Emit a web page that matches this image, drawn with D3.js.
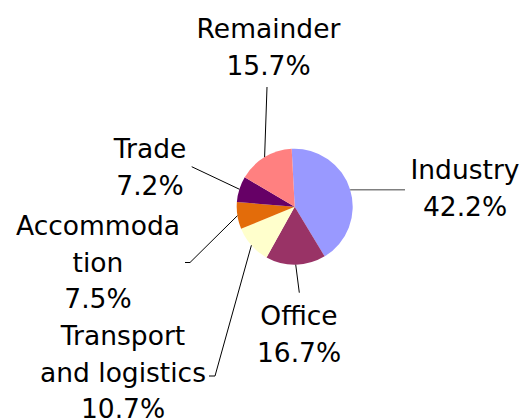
<!DOCTYPE html>
<html>
<head>
<meta charset="utf-8">
<script src="https://cdn.jsdelivr.net/npm/d3@7"></script>
<style>
  body { margin: 0; background: #fff; }
  .lbl { font-family: "DejaVu Sans", sans-serif; font-size: 26.5px; fill: #000; }
</style>
</head>
<body>
<svg width="521" height="419"></svg>
<script>
// slice data, clockwise from 12 o'clock
var categories = ['Industry', 'Office', 'Transport and logistics', 'Accommodation', 'Trade', 'Remainder'];
var shares = [42.2, 16.7, 10.7, 7.5, 7.2, 15.7];
var labelLines = [['Industry'], ['Office'], ['Transport', 'and logistics'], ['Accommoda', 'tion'], ['Trade'], ['Remainder']];
var colors = ['#9999ff', '#993366', '#ffffcc', '#e36c0a', '#660066', '#ff8080'];

// layout
var cx = 294.7, cy = 206.7, radius = 58;
var lineH = 36.5;
// where each label block sits: text centre x, first baseline y, leader line end
var labelAt = {
  'Industry':                {x: 465, y: 179, lx: 405, ly: 189.7, color: '#808080', w: 1.6},
  'Office':                  {x: 299, y: 325, lx: 299.3, ly: 292.7},
  'Transport and logistics': {x: 123, y: 345, lx: 215, ly: 376, tick: 209},
  'Accommodation':           {x: 98,  y: 235, lx: 190, ly: 262.5, tick: 185},
  'Trade':                   {x: 150, y: 158, lx: 191.7, ly: 166.7},
  'Remainder':               {x: 268.5, y: 38, lx: 267, ly: 87}
};

var svg = d3.select('svg');
var g = svg.append('g').attr('transform', 'translate(' + cx + ',' + cy + ')');

var startAngle = -3 * Math.PI / 180;
var pie = d3.pie()
            .sort(null)
            .value(d => d.v)
            .startAngle(startAngle)
            .endAngle(startAngle + 2 * Math.PI);

var arc = d3.arc().innerRadius(0).outerRadius(radius);

var data = categories.map((c, i) => ({name: c, v: shares[i], color: colors[i], lines: labelLines[i]}));
var arcs = pie(data);

g.selectAll('path.slice')
  .data(arcs)
  .enter()
  .append('path')
    .attr('class', 'slice')
    .attr('d', arc)
    .style('fill', d => d.data.color)
    .style('stroke', 'none');

// leader lines from slice edge at mid angle to the label
arcs.forEach(d => {
  var L = labelAt[d.data.name];
  var a = (d.startAngle + d.endAngle) / 2;
  var px = cx + radius * Math.sin(a), py = cy - radius * Math.cos(a);
  var pts = [[px, py], [L.lx, L.ly]];
  if (L.tick) pts.push([L.tick, L.ly]);
  svg.append('path')
    .attr('d', d3.line()(pts))
    .style('fill', 'none')
    .style('stroke', L.color || '#000')
    .style('stroke-width', L.w || 1);
});

// labels
arcs.forEach(d => {
  var L = labelAt[d.data.name];
  var rows = d.data.lines.concat([d.data.v.toFixed(1) + '%']);
  var t = svg.append('text')
    .attr('class', 'lbl')
    .attr('text-anchor', 'middle');
  rows.forEach((r, i) => {
    t.append('tspan').attr('x', L.x).attr('y', L.y + i * lineH).text(r);
  });
});
</script>
</body>
</html>
